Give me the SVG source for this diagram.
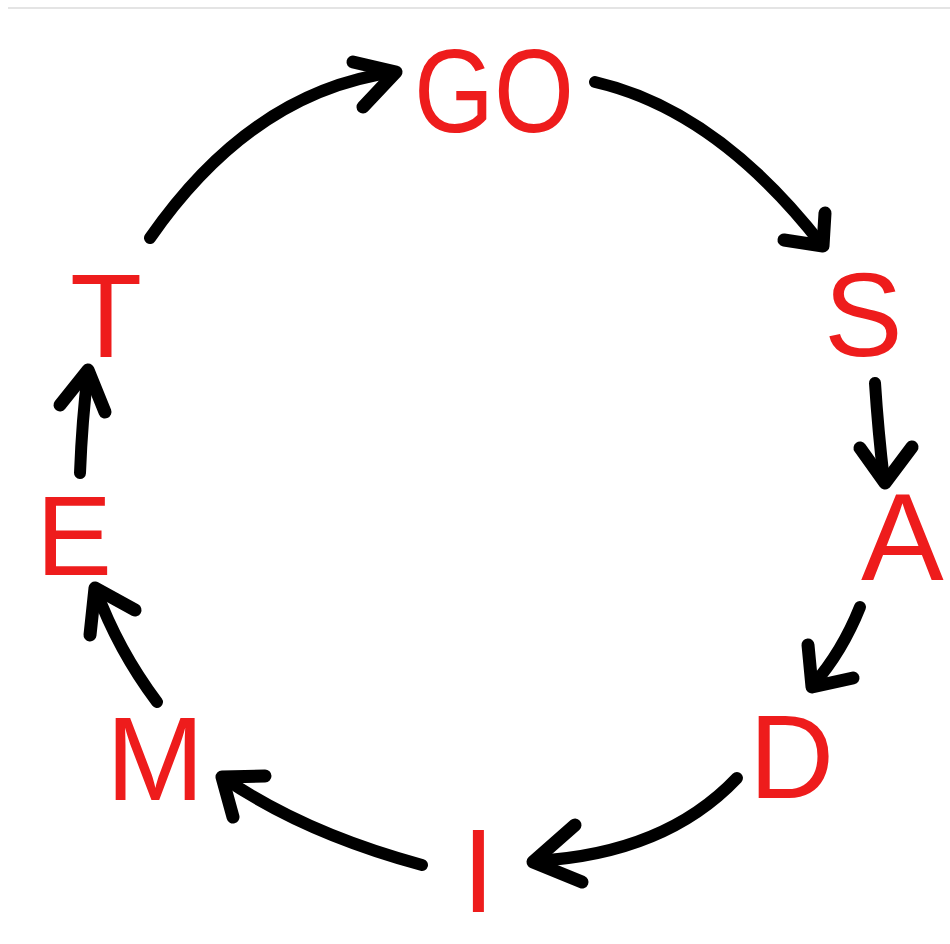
<svg xmlns="http://www.w3.org/2000/svg" width="950" height="944" viewBox="0 0 950 944">
<style>
.lbl{font-family:"Liberation Sans",Arial,sans-serif;font-size:118px;fill:#ee1c1c}
.ln{fill:none;stroke:#000;stroke-width:12;stroke-linecap:round;stroke-linejoin:round}
.hd{fill:none;stroke:#000;stroke-width:13;stroke-linecap:round;stroke-linejoin:round}
</style>
<rect x="0" y="0" width="950" height="944" fill="#fff"/>
<line x1="8" y1="8" x2="950" y2="8" stroke="#e4e4e4" stroke-width="2"/>
<g id="node-GO"><text class="lbl" x="414" y="132" textLength="160" lengthAdjust="spacingAndGlyphs">GO</text></g>
<g id="node-S"><text class="lbl" x="824" y="356">S</text></g>
<g id="node-A"><text class="lbl" x="861" y="580" style="font-size:124px">A</text></g>
<g id="node-D"><text class="lbl" x="749" y="798">D</text></g>
<g id="node-I"><text class="lbl" x="462" y="912">I</text></g>
<g id="node-M"><text class="lbl" x="106" y="800">M</text></g>
<g id="node-E"><text class="lbl" x="36" y="575" style="font-size:114px">E</text></g>
<g id="node-T"><text class="lbl" x="70" y="357">T</text></g>
<g id="connectors">
<path class="ln" d="M150,238 Q252,91 395,72"/>
<polyline class="hd" points="353,62 396,72 363,107"/>
<path class="ln" d="M595,82 Q717,110 822,245"/>
<polyline class="hd" points="825,213 823,246 784,240"/>
<path class="ln" d="M875,383 Q878,430 884,481"/>
<polyline class="hd" points="860,448 885,483 912,447"/>
<path class="ln" d="M860,607 Q842,652 813,685"/>
<polyline class="hd" points="808,645 812,687 853,678"/>
<path class="ln" d="M737,778 Q665,854 535,861"/>
<polyline class="hd" points="575,825 533,862 582,882"/>
<path class="ln" d="M422,865 Q304,833 224,778"/>
<polyline class="hd" points="265,776 222,777 233,817"/>
<path class="ln" d="M157,702 Q118,650 96,590"/>
<polyline class="hd" points="90,635 95,588 135,610"/>
<path class="ln" d="M80,473 Q82,420 88,372"/>
<polyline class="hd" points="60,405 88,370 105,412"/>
</g>
</svg>
